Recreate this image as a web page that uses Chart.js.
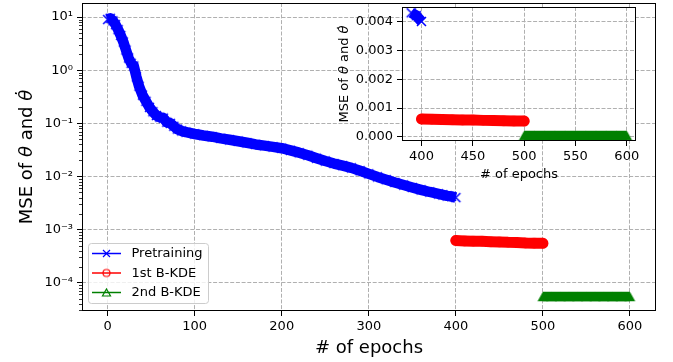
<!DOCTYPE html>
<html>
<head>
<meta charset="utf-8">
<script src="https://cdn.jsdelivr.net/npm/chart.js@4.4.0/dist/chart.umd.min.js"></script>
<style>
  html, body { margin: 0; padding: 0; background: #fff; }
  #wrap { position: relative; width: 673px; height: 362px; }
  #wrap canvas { position: absolute; left: 0; top: 0; }
</style>
</head>
<body>
<div id="wrap">
  <canvas id="mainChart" width="673" height="362"></canvas>
  <canvas id="insetChart" width="673" height="362"></canvas>
</div>
<script>
// values
const pretrainEpochs = [0, 3, 6, 9, 12, 15, 18, 21, 24, 27, 30, 33, 36, 40, 44, 48, 52, 56, 60, 64, 68, 72, 76, 80, 85, 90,
  100, 110, 120, 130, 140, 150, 160, 170, 180, 190, 200, 210, 220, 230, 240, 250, 260, 270, 280, 290,
  300, 310, 320, 330, 340, 350, 360, 370, 380, 385, 390, 395, 400];
const pretrainMse = [9.0, 9.5, 8.5, 7.2, 5.8, 4.5, 3.4, 2.4, 1.7, 1.35, 1.2, 0.75, 0.5, 0.34, 0.26, 0.2, 0.165, 0.14, 0.13, 0.125, 0.105, 0.1, 0.088, 0.078, 0.072, 0.068,
  0.063, 0.059, 0.056, 0.052, 0.049, 0.046, 0.043, 0.040, 0.038, 0.036, 0.034, 0.031, 0.028, 0.025, 0.022, 0.0195, 0.0175, 0.016, 0.0145, 0.0128,
  0.0112, 0.0098, 0.0087, 0.0077, 0.0069, 0.0062, 0.0056, 0.0051, 0.0047, 0.0045, 0.0043, 0.0042, 0.0040];
const kde1Epochs = [400, 410, 420, 430, 440, 450, 460, 470, 480, 490, 500];
const kde1Mse = [0.00062, 0.00061, 0.000605, 0.0006, 0.00059, 0.000585, 0.000575, 0.00057, 0.00056, 0.000555, 0.00055];
const kde2Epochs = [500, 510, 520, 530, 540, 550, 560, 570, 580, 590, 600];
const kde2Mse = [0.000055, 0.000055, 0.000055, 0.000055, 0.000055, 0.000055, 0.000055, 0.000055, 0.000055, 0.000055, 0.000055];
const seriesNames = ['Pretraining', '1st B-KDE', '2nd B-KDE'];

const xTicksMain = [0, 100, 200, 300, 400, 500, 600];
const yTicksMain = [1e-4, 1e-3, 1e-2, 1e-1, 1, 10];
const xTicksInset = [400, 450, 500, 550, 600];
const yTicksInset = [0, 0.001, 0.002, 0.003, 0.004];
const insetFrom = 390;

const FONT = '"DejaVu Sans"';
const BLUE = '#0000ff', RED = '#ff0000', GREEN = '#008000';
const GRID = '#b0b0b0';

function pts(xs, ys) {
  return xs.map((x, i) => ({ x: x, y: ys[i] }));
}

// matplotlib-like marker images
function marker(kind, size, color, filled, lw) {
  const c = document.createElement('canvas');
  const n = Math.ceil(size + lw + 2);
  c.width = n; c.height = n;
  const g = c.getContext('2d');
  const m = n / 2, h = size / 2;
  g.strokeStyle = color; g.fillStyle = color; g.lineWidth = lw;
  g.beginPath();
  if (kind === 'x') {
    g.moveTo(m - h, m - h); g.lineTo(m + h, m + h);
    g.moveTo(m - h, m + h); g.lineTo(m + h, m - h);
    g.stroke();
  } else if (kind === 'o') {
    g.arc(m, m, h, 0, Math.PI * 2);
    if (filled) g.fill(); else g.stroke();
  } else {
    g.moveTo(m, m - h); g.lineTo(m + h * 1.15, m + h); g.lineTo(m - h * 1.15, m + h); g.closePath();
    if (filled) g.fill(); else g.stroke();
  }
  return c;
}

const mkX = marker('x', 9, BLUE, true, 1.5);
const mkO = marker('o', 10, RED, true, 1);
const mkT = marker('^', 9.3, GREEN, true, 1);
const lgX = marker('x', 7, BLUE, false, 1.2);
const lgO = marker('o', 7, RED, false, 1.2);
const lgT = marker('^', 7, GREEN, false, 1.2);

const supMap = { '0': '⁰', '1': '¹', '2': '²', '3': '³', '4': '⁴', '5': '⁵', '6': '⁶', '7': '⁷', '8': '⁸', '9': '⁹', '-': '⁻' };
function sup(n) { return String(n).split('').map(ch => supMap[ch]).join(''); }

function drawYLabel(ctx, x, cy, size) {
  const parts = [['MSE of ', ''], ['θ', 'italic '], [' and ', ''], ['θ\u0307', 'italic ']];
  ctx.save();
  ctx.translate(x, cy);
  ctx.rotate(-Math.PI / 2);
  ctx.textBaseline = 'alphabetic';
  ctx.textAlign = 'left';
  ctx.fillStyle = '#000';
  let total = 0;
  parts.forEach(p => { ctx.font = p[1] + size + 'px ' + FONT; total += ctx.measureText(p[0]).width; });
  let cx = -total / 2;
  parts.forEach(p => {
    ctx.font = p[1] + size + 'px ' + FONT;
    ctx.fillText(p[0], cx, 0);
    cx += ctx.measureText(p[0]).width;
  });
  ctx.restore();
}

function drawXLabel(ctx, cx, y, size) {
  ctx.save();
  ctx.font = size + 'px ' + FONT;
  ctx.fillStyle = '#000';
  ctx.textAlign = 'center';
  ctx.textBaseline = 'alphabetic';
  ctx.fillText('# of epochs', cx, y);
  ctx.restore();
}

function drawFrame(chart) {
  const a = chart.chartArea, ctx = chart.ctx;
  ctx.save();
  ctx.strokeStyle = '#000';
  ctx.lineWidth = 1;
  ctx.strokeRect(Math.round(a.left) + 0.5, Math.round(a.top) + 0.5, Math.round(a.right - a.left) - 1, Math.round(a.bottom - a.top) - 1);
  ctx.restore();
}

const mainDecor = {
  id: 'mainDecor',
  afterDraw(chart) {
    const ctx = chart.ctx, a = chart.chartArea, ys = chart.scales.y;
    drawFrame(chart);
    // minor log ticks
    ctx.save();
    ctx.strokeStyle = '#000';
    ctx.lineWidth = 0.8;
    for (let e = -5; e <= 1; e++) {
      for (let k = 2; k <= 9; k++) {
        const v = k * Math.pow(10, e);
        if (v < ys.min || v > ys.max) continue;
        const py = Math.round(ys.getPixelForValue(v)) + 0.5;
        ctx.beginPath();
        ctx.moveTo(a.left, py);
        ctx.lineTo(a.left - 3, py);
        ctx.stroke();
      }
    }
    ctx.restore();
    // legend
    ctx.save();
    const bx = 88.5, by = 243.5, bw = 120, bh = 60, r = 3;
    ctx.fillStyle = 'rgba(255,255,255,0.8)';
    ctx.strokeStyle = '#cccccc';
    ctx.lineWidth = 1;
    ctx.beginPath();
    ctx.roundRect(bx, by, bw, bh, r);
    ctx.fill();
    ctx.stroke();
    const rows = [253.5, 273, 292.5];
    const cols = [BLUE, RED, GREEN];
    const mks = [lgX, lgO, lgT];
    ctx.font = '13px ' + FONT;
    ctx.textBaseline = 'middle';
    ctx.textAlign = 'left';
    rows.forEach((ry, i) => {
      ctx.strokeStyle = cols[i];
      ctx.lineWidth = 1.5;
      ctx.beginPath();
      ctx.moveTo(92, ry);
      ctx.lineTo(121, ry);
      ctx.stroke();
      ctx.drawImage(mks[i], 106.5 - mks[i].width / 2, ry - mks[i].height / 2);
      ctx.fillStyle = '#000';
      ctx.fillText(seriesNames[i], 131.5, ry + 0.5);
    });
    ctx.restore();
    drawYLabel(ctx, 32, (a.top + a.bottom) / 2, 18);
    drawXLabel(ctx, (a.left + a.right) / 2, 353, 18);
  }
};

const insetDecor = {
  id: 'insetDecor',
  beforeDraw(chart) {
    const a = chart.chartArea, ctx = chart.ctx;
    ctx.save();
    ctx.fillStyle = '#fff';
    ctx.fillRect(a.left, a.top, a.right - a.left, a.bottom - a.top);
    ctx.restore();
  },
  afterDraw(chart) {
    const a = chart.chartArea;
    drawFrame(chart);
    drawYLabel(chart.ctx, 348, (a.top + a.bottom) / 2, 13);
    drawXLabel(chart.ctx, (a.left + a.right) / 2, 177.5, 13);
  }
};

function gridOpts() {
  return {
    color: GRID,
    lineWidth: 1,
    drawTicks: true,
    tickLength: 5,
    tickColor: '#000',
    tickWidth: 1,
    tickBorderDash: []
  };
}
const borderOpts = () => ({ display: false, dash: [4, 1.7] });

function seriesSets(p, k1, k2) {
  return [
    { label: seriesNames[0], data: p, borderColor: BLUE, backgroundColor: BLUE, borderWidth: 10.5,
      borderJoinStyle: 'round', borderCapStyle: 'butt', pointStyle: mkX, pointRadius: 5, pointBorderWidth: 0, tension: 0, order: 3 },
    { label: seriesNames[1], data: k1, borderColor: RED, backgroundColor: RED, borderWidth: 11,
      borderJoinStyle: 'round', borderCapStyle: 'round', pointStyle: mkO, pointRadius: 5, pointBorderWidth: 0, tension: 0, order: 2 },
    { label: seriesNames[2], data: k2, borderColor: GREEN, backgroundColor: GREEN, borderWidth: 9.3,
      borderJoinStyle: 'round', borderCapStyle: 'butt', pointStyle: mkT, pointRadius: 5, pointBorderWidth: 0, tension: 0, order: 1 }
  ];
}

const tickFont = { family: FONT, size: 13 };
// keep the plot box where the figure has it: no extra room for end labels
const fixX = h => s => { s.height = h; s.paddingLeft = 0; s.paddingRight = 0; };
const fixY = w => s => { s.width = w; s.paddingTop = 0; s.paddingBottom = 0; };

new Chart(document.getElementById('mainChart').getContext('2d'), {
  type: 'line',
  data: {
    datasets: seriesSets(pts(pretrainEpochs, pretrainMse), pts(kde1Epochs, kde1Mse), pts(kde2Epochs, kde2Mse))
  },
  options: {
    responsive: false,
    animation: false,
    devicePixelRatio: 1,
    layout: { autoPadding: false, padding: { top: 3, right: 17, left: 0, bottom: 0 } },
    plugins: { legend: { display: false }, tooltip: { enabled: false } },
    scales: {
      x: {
        type: 'linear', min: -29.5, max: 630,
        afterBuildTicks: s => { s.ticks = xTicksMain.map(v => ({ value: v })); },
        afterFit: fixX(51),
        grid: gridOpts(), border: borderOpts(),
        ticks: { font: tickFont, color: '#000', padding: 3, maxRotation: 0, autoSkip: false, callback: v => String(v) }
      },
      y: {
        type: 'logarithmic', min: Math.pow(10, -4.533), max: Math.pow(10, 1.265),
        afterBuildTicks: s => { s.ticks = yTicksMain.map(v => ({ value: v, major: true })); },
        afterFit: fixY(82),
        grid: gridOpts(), border: borderOpts(),
        ticks: { font: tickFont, color: '#000', padding: 4, autoSkip: false,
          callback: v => '10' + sup(Math.round(Math.log10(v))) }
      }
    }
  },
  plugins: [mainDecor]
});

const keep = (xs, ys) => pts(xs, ys).filter(p => p.x >= insetFrom);

new Chart(document.getElementById('insetChart').getContext('2d'), {
  type: 'line',
  data: {
    datasets: seriesSets(keep(pretrainEpochs, pretrainMse), pts(kde1Epochs, kde1Mse), pts(kde2Epochs, kde2Mse))
  },
  options: {
    responsive: false,
    animation: false,
    devicePixelRatio: 1,
    layout: { autoPadding: false, padding: { top: 7, right: 37, left: 330, bottom: 172 } },
    plugins: { legend: { display: false }, tooltip: { enabled: false } },
    scales: {
      x: {
        type: 'linear', min: 381, max: 609,
        afterBuildTicks: s => { s.ticks = xTicksInset.map(v => ({ value: v })); },
        afterFit: fixX(49),
        grid: gridOpts(), border: borderOpts(),
        ticks: { font: tickFont, color: '#000', padding: 3, maxRotation: 0, autoSkip: false, callback: v => String(v) }
      },
      y: {
        type: 'linear', min: -0.000139, max: 0.0045,
        afterBuildTicks: s => { s.ticks = yTicksInset.map(v => ({ value: v })); },
        afterFit: fixY(72),
        grid: gridOpts(), border: borderOpts(),
        ticks: { font: tickFont, color: '#000', padding: 4, autoSkip: false, callback: v => v.toFixed(3) }
      }
    }
  },
  plugins: [insetDecor]
});
</script>
</body>
</html>
